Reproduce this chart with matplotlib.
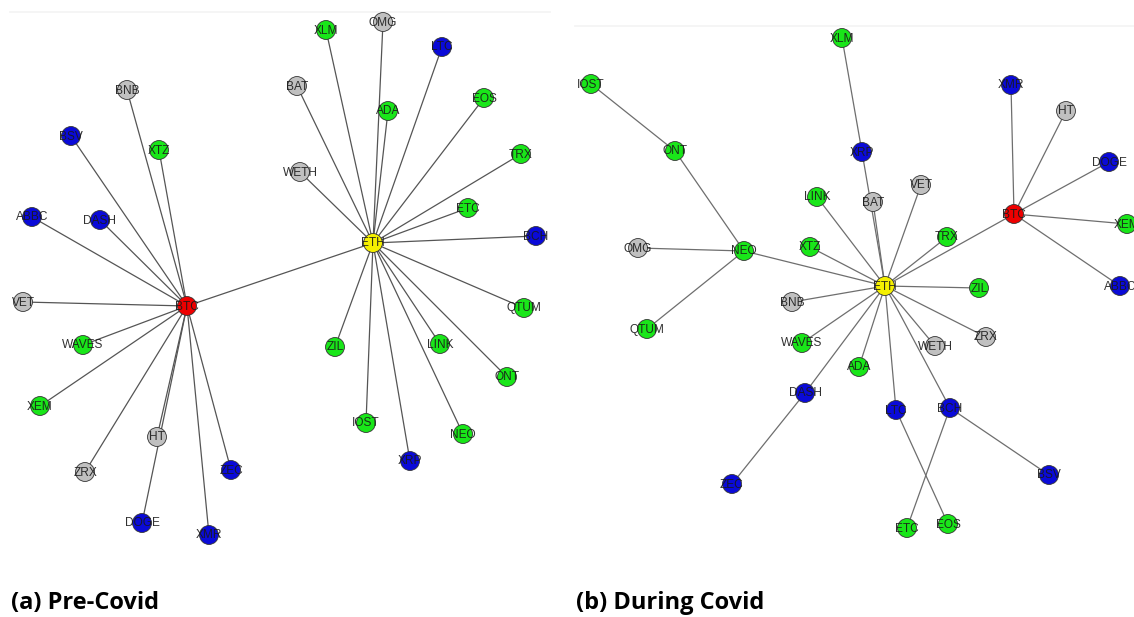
import matplotlib
matplotlib.use("Agg")
import matplotlib.pyplot as plt

# ---------------- data ----------------
# Panel (a) Pre-Covid : node names, positions (image pixel coords), colour classes
pre_names = ["BTC", "ETH", "BNB", "BSV", "XTZ", "ABBC", "DASH", "VET", "WAVES", "XEM",
             "HT", "ZRX", "ZEC", "DOGE", "XMR",
             "XLM", "OMG", "LTC", "BAT", "ADA", "EOS", "TRX", "WETH", "ETC", "BCH",
             "QTUM", "ZIL", "LINK", "ONT", "IOST", "NEO", "XRP"]
pre_x = [187, 373, 127, 71, 159, 32, 100, 23, 83, 40,
         157, 85, 231, 142, 209,
         326, 383, 442, 297, 388, 484, 521, 300, 468, 536,
         524, 335, 440, 507, 366, 463, 410]
pre_y = [306, 243, 90, 136, 150, 217, 220, 302, 345, 406,
         437, 472, 470, 523, 535,
         30, 22, 47, 86, 111, 98, 154, 172, 208, 236,
         308, 347, 344, 377, 423, 434, 461]
pre_cls = ["r", "y", "g", "b", "G", "b", "b", "g", "G", "G",
           "g", "g", "b", "b", "b",
           "G", "g", "b", "g", "G", "G", "G", "g", "G", "b",
           "G", "G", "G", "G", "G", "G", "b"]
pre_edges = [("BTC", "ETH"), ("BTC", "BNB"), ("BTC", "BSV"), ("BTC", "XTZ"), ("BTC", "ABBC"),
             ("BTC", "DASH"), ("BTC", "VET"), ("BTC", "WAVES"), ("BTC", "XEM"), ("BTC", "ZRX"),
             ("BTC", "HT"), ("BTC", "DOGE"), ("BTC", "ZEC"), ("BTC", "XMR"),
             ("ETH", "XLM"), ("ETH", "OMG"), ("ETH", "LTC"), ("ETH", "BAT"), ("ETH", "ADA"),
             ("ETH", "EOS"), ("ETH", "TRX"), ("ETH", "WETH"), ("ETH", "ETC"), ("ETH", "BCH"),
             ("ETH", "QTUM"), ("ETH", "ZIL"), ("ETH", "LINK"), ("ETH", "ONT"), ("ETH", "IOST"),
             ("ETH", "NEO"), ("ETH", "XRP")]

# Panel (b) During Covid
dur_names = ["ETH", "BTC", "IOST", "XLM", "ONT", "XRP", "XMR", "HT", "DOGE", "LINK", "BAT",
             "VET", "XEM", "OMG", "NEO", "XTZ", "TRX", "ZIL", "ABBC", "BNB", "QTUM",
             "ZRX", "WAVES", "WETH", "ADA", "DASH", "LTC", "BCH", "ZEC", "BSV", "ETC", "EOS"]
dur_x = [885, 1014, 591, 842, 675, 862, 1011, 1066, 1109, 817, 873,
         921, 1127, 638, 744, 810, 947, 979, 1120, 792, 647,
         986, 802, 935, 859, 805, 896, 950, 732, 1049, 907, 948]
dur_y = [286, 214, 84, 38, 151, 152, 85, 111, 162, 197, 202,
         185, 224, 248, 251, 247, 237, 288, 286, 302, 329,
         337, 343, 346, 367, 393, 410, 408, 484, 475, 528, 524]
dur_cls = ["y", "r", "G", "G", "G", "b", "b", "g", "b", "G", "g",
           "g", "G", "g", "G", "G", "G", "G", "b", "g", "G",
           "g", "G", "g", "G", "b", "b", "b", "b", "b", "G", "G"]
dur_edges = [("XLM", "XRP"), ("XRP", "ETH"), ("BAT", "ETH"), ("IOST", "ONT"), ("ONT", "NEO"),
             ("OMG", "NEO"), ("NEO", "QTUM"), ("NEO", "ETH"), ("LINK", "ETH"), ("XTZ", "ETH"),
             ("VET", "ETH"), ("TRX", "ETH"), ("BTC", "ETH"), ("ZIL", "ETH"), ("ZRX", "ETH"),
             ("WETH", "ETH"), ("ADA", "ETH"), ("LTC", "ETH"), ("BCH", "ETH"), ("DASH", "ETH"),
             ("WAVES", "ETH"), ("BNB", "ETH"), ("BTC", "XMR"), ("BTC", "HT"), ("BTC", "DOGE"),
             ("BTC", "XEM"), ("BTC", "ABBC"), ("DASH", "ZEC"), ("LTC", "EOS"), ("BCH", "ETC"),
             ("BCH", "BSV")]

captions = ["(a) Pre-Covid", "(b) During Covid"]

# ---------------- style ----------------
palette = {"r": "#ee0000", "y": "#f5f000", "g": "#c0c0c0", "G": "#19e619", "b": "#0a0ad8"}

W, H = 1134, 617
fig = plt.figure(figsize=(W / 100, H / 100), dpi=100)
ax = fig.add_axes([0, 0, 1, 1])
ax.set_xlim(0, W)
ax.set_ylim(H, 0)
ax.axis("off")

# faint screenshot borders
ax.plot([10, 550], [12, 12], color="#f3f3f3", lw=1.2, zorder=0)
ax.plot([575, 1134], [26, 26], color="#f3f3f3", lw=1.2, zorder=0)


def draw_net(names, xs, ys, cls, edges, ecol):
    pos = {n: (x, y) for n, x, y in zip(names, xs, ys)}
    for a, b in edges:
        ax.plot([pos[a][0], pos[b][0]], [pos[a][1], pos[b][1]],
                color=ecol, lw=0.9, zorder=1, solid_capstyle="round")
    ax.scatter(xs, ys, s=185, c=[palette[c] for c in cls], edgecolors="#333333",
               linewidths=0.6, zorder=2)
    for n, x, y in zip(names, xs, ys):
        ax.text(x, y + 0.5, n, ha="center", va="center", fontsize=8.6,
                family="Liberation Sans", color="#1a1a1a", alpha=0.9, zorder=3)


draw_net(pre_names, pre_x, pre_y, pre_cls, pre_edges, "#555555")
draw_net(dur_names, dur_x, dur_y, dur_cls, dur_edges, "#6e6e6e")

ax.text(11, 609, captions[0], ha="left", va="baseline", fontsize=17, fontweight="bold",
        family="Open Sans", color="black")
ax.text(576, 609, captions[1], ha="left", va="baseline", fontsize=17, fontweight="bold",
        family="Open Sans", color="black")

fig.savefig("out.png", dpi=100)
